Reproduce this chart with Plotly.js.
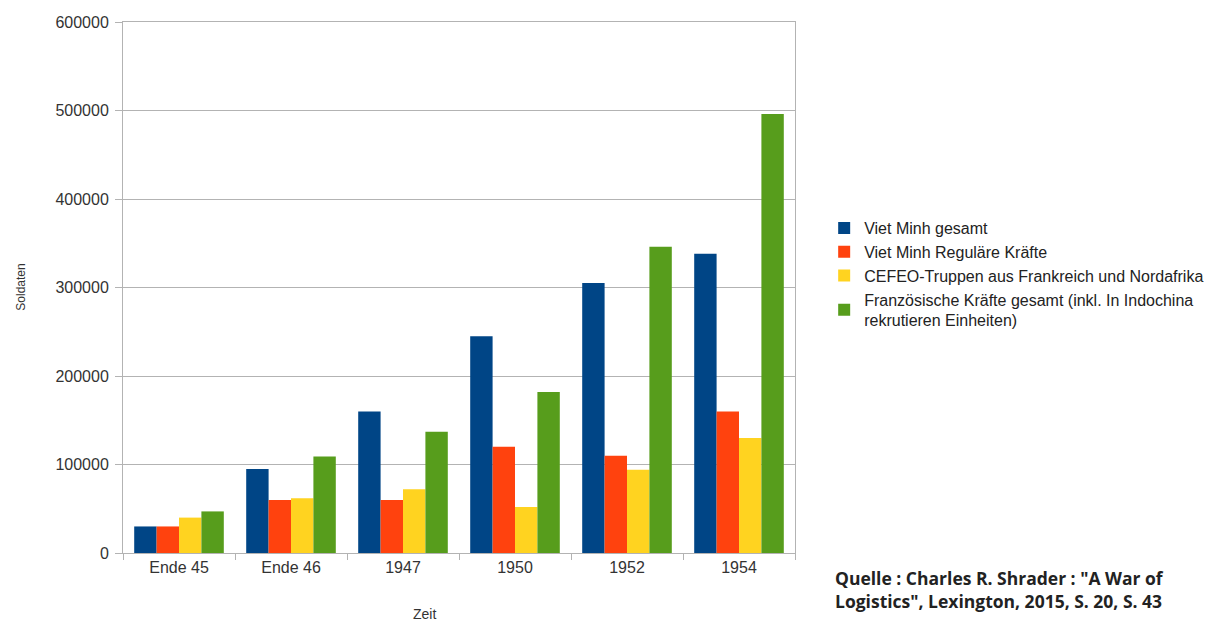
<!DOCTYPE html>
<html>
<head>
<meta charset="utf-8">
<script src="https://cdn.plot.ly/plotly-3.0.1.min.js"></script>
<style>html,body{margin:0;padding:0;background:#fff;}#chart{width:1221px;height:623px;}</style>
</head>
<body>
<div id="chart"></div>
<script>
const categories = ["Ende 45", "Ende 46", "1947", "1950", "1952", "1954"];
const seriesNames = [
  "Viet Minh gesamt",
  "Viet Minh Reguläre Kräfte",
  "CEFEO-Truppen aus Frankreich und Nordafrika",
  "Französische Kräfte gesamt (inkl. In Indochina<br>rekrutieren Einheiten)"
];
const vietMinhGesamt   = [30000, 95000, 160000, 245000, 305000, 338000];
const vietMinhRegulaer = [30000, 60000, 60000, 120000, 110000, 160000];
const cefeoTruppen     = [40000, 62000, 72000, 52000, 94000, 130000];
const franzGesamt      = [47000, 109000, 137000, 182000, 346000, 496000];
const colors = ["#004586", "#ff420e", "#ffd320", "#579d1c"];
const yTicks = [0, 100000, 200000, 300000, 400000, 500000, 600000];

const values = [vietMinhGesamt, vietMinhRegulaer, cefeoTruppen, franzGesamt];
const traces = values.map((v, i) => ({
  type: "bar",
  name: seriesNames[i],
  x: categories,
  y: v,
  marker: {color: colors[i], line: {width: 0}},
  hoverinfo: "x+y+name"
}));

const layout = {
  width: 1221, height: 623,
  margin: {l: 123, r: 426, t: 22, b: 70},
  paper_bgcolor: "#fff", plot_bgcolor: "#fff",
  font: {family: "Liberation Sans, Arial, sans-serif", size: 16, color: "#333"},
  barmode: "group",
  bargap: 0.2,
  bargroupgap: 0,
  showlegend: true,
  legend: {
    xref: "container", yref: "container",
    x: 0.675, y: 0.56, xanchor: "left", yanchor: "middle",
    font: {size: 16, color: "#222"},
    itemwidth: 30,
    traceorder: "normal",
    tracegroupgap: 0
  },
  xaxis: {
    type: "category",
    showline: true, linecolor: "#b3b3b3", linewidth: 1,
    mirror: true,
    ticks: "outside", ticklen: 6, tickcolor: "#b3b3b3",
    tickson: "boundaries",
    showgrid: false,
    tickfont: {size: 16, color: "#333"}
  },
  yaxis: {
    range: [0, 600000],
    tickvals: yTicks,
    ticktext: yTicks.map(String),
    showline: true, linecolor: "#b3b3b3", linewidth: 1,
    mirror: true,
    ticks: "outside", ticklen: 7, tickcolor: "#b3b3b3",
    ticklabelstandoff: 3,
    showgrid: true, gridcolor: "#b3b3b3", gridwidth: 1,
    zeroline: false,
    tickfont: {size: 16, color: "#333"}
  },
  annotations: [{
    xref: "paper", yref: "paper",
    x: 1.0565, y: -0.02, xanchor: "left", yanchor: "top",
    align: "left",
    showarrow: false,
    text: "<b>Quelle : Charles R. Shrader : \"A War of<br>Logistics\", Lexington, 2015, S. 20, S. 43</b>",
    font: {family: "Open Sans, Liberation Sans, sans-serif", size: 17.5, color: "#222"}
  }, {
    xref: "paper", yref: "paper",
    x: 0.448, y: -0.115, xanchor: "center", yanchor: "middle",
    showarrow: false,
    text: "Zeit",
    font: {size: 14, color: "#333"}
  }, {
    xref: "paper", yref: "paper",
    x: -0.153, y: 0.5, xanchor: "center", yanchor: "middle",
    textangle: -90,
    showarrow: false,
    text: "Soldaten",
    font: {size: 12, color: "#333"}
  }]
};

Plotly.newPlot("chart", traces, layout, {displayModeBar: false});
</script>
</body>
</html>
